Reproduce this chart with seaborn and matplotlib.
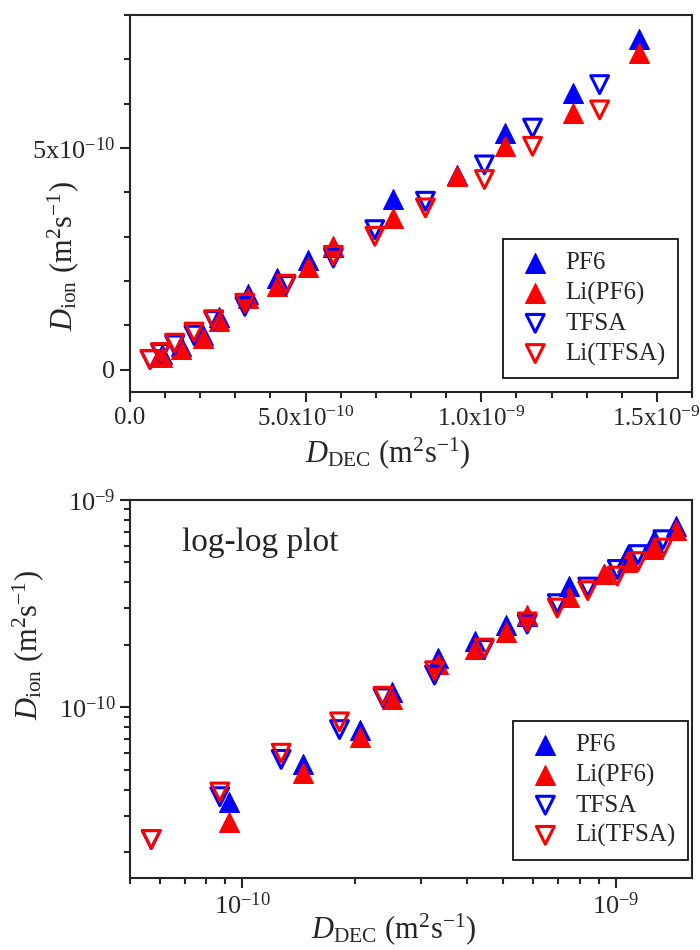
import numpy as np
import pandas as pd
import matplotlib
matplotlib.use("Agg")
import matplotlib.pyplot as plt
import seaborn as sns
from matplotlib.ticker import (MultipleLocator, FixedLocator, FixedFormatter,
                               LogLocator, NullFormatter)

# ---- data (units of 1e-10 m^2/s) ----
x_pf6 = [0.92, 1.45, 2.07, 2.52, 3.35, 4.19, 5.07, 5.79, 7.48, 9.32, 10.69, 12.60, 14.48]
y_pf6 = [0.35, 0.53, 0.78, 1.18, 1.72, 2.08, 2.48, 2.76, 3.84, 4.40, 5.34, 6.24, 7.46]
y_lipf6 = [0.28, 0.48, 0.72, 1.10, 1.62, 1.90, 2.31, 2.80, 3.42, 4.38, 5.04, 5.79, 7.14]

x_tfsa = [0.57, 0.87, 1.27, 1.82, 2.38, 3.27, 4.44, 5.79, 6.97, 8.41, 10.09, 11.46, 13.37]
y_tfsa = [0.23, 0.37, 0.56, 0.78, 1.11, 1.43, 1.90, 2.52, 3.16, 3.80, 4.62, 5.45, 6.43]
y_litfsa = [0.23, 0.39, 0.60, 0.85, 1.13, 1.50, 1.93, 2.58, 3.01, 3.65, 4.29, 5.04, 5.86]

labels = ["PF6", "Li(PF6)", "TFSA", "Li(TFSA)"]
unit = 1e-10

series = [
    (labels[0], x_pf6, y_pf6, "^", "blue", True),
    (labels[1], x_pf6, y_lipf6, "^", "red", True),
    (labels[2], x_tfsa, y_tfsa, "v", "blue", False),
    (labels[3], x_tfsa, y_litfsa, "v", "red", False),
]

sns.set_style("ticks")
plt.rcParams["font.family"] = ["Liberation Serif", "DejaVu Serif"]
plt.rcParams["mathtext.fontset"] = "custom"
plt.rcParams["mathtext.rm"] = "Liberation Serif"
plt.rcParams["mathtext.it"] = "Liberation Serif:italic"
plt.rcParams["mathtext.bf"] = "Liberation Serif:bold"
plt.rcParams["axes.linewidth"] = 1.5

fig = plt.figure(figsize=(7, 9.5), dpi=100)
ax1 = fig.add_axes([0.1857, 0.5874, 0.8029, 0.3968])
ax2 = fig.add_axes([0.1857, 0.0758, 0.8029, 0.3979])


def draw(ax):
    for name, xs, ys, mk, col, filled in series:
        df = pd.DataFrame({"x": np.array(xs) * unit, "y": np.array(ys) * unit})
        if filled:
            sns.scatterplot(data=df, x="x", y="y", ax=ax, marker=mk, s=205,
                            facecolor=col, edgecolor=col, linewidth=0.8,
                            label=name, zorder=3)
        else:
            sns.scatterplot(data=df, x="x", y="y", ax=ax, marker=mk, s=165,
                            facecolor="none", edgecolor=col, linewidth=2.2,
                            label=name, zorder=3)


draw(ax1)
draw(ax2)

ylab = r"$\mathit{D}_{\rm ion}$ (m$^{2}$s$^{-1}$)"
xlab = r"$\mathit{D}_{\rm DEC}$ (m$^{2}$s$^{-1}$)"

for ax in (ax1, ax2):
    for s in ("top", "right"):
        ax.spines[s].set_visible(True)
    ax.tick_params(which="both", direction="out", top=False, right=False,
                   labelsize=19, width=1.5)
    ax.tick_params(which="major", length=7)
    ax.tick_params(which="minor", length=4)
    ax.set_xlabel(xlab, fontsize=22)
    ax.set_ylabel(ylab, fontsize=22)
ax1.tick_params(axis="x", labelsize=18)

ax1.xaxis.set_label_coords(0.459, -0.115)
ax1.yaxis.set_label_coords(-0.088, 0.36)
ax2.xaxis.set_label_coords(0.47, -0.088)
ax2.yaxis.set_label_coords(-0.15, 0.616)

# top linear plot
ax1.set_xlim(0, 1.6e-9)
ax1.set_ylim(-0.5e-10, 8.0e-10)
ax1.xaxis.set_major_locator(FixedLocator([0, 5e-10, 1e-9, 1.5e-9]))
ax1.xaxis.set_major_formatter(FixedFormatter(
    ["0.0", r"5.0x10$^{-10}$", r"1.0x10$^{-9}$", r"1.5x10$^{-9}$"]))
ax1.xaxis.set_minor_locator(MultipleLocator(1e-10))
ax1.yaxis.set_major_locator(FixedLocator([0, 5e-10]))
ax1.yaxis.set_major_formatter(FixedFormatter(["0", r"5x10$^{-10}$"]))
ax1.yaxis.set_minor_locator(MultipleLocator(1e-10))

leg1 = ax1.legend(loc="lower right", bbox_to_anchor=(0.975, 0.037),
                  borderaxespad=0, fontsize=18, frameon=True, fancybox=False,
                  edgecolor="black", framealpha=1, handletextpad=0.4,
                  labelspacing=0.3, borderpad=0.5, handlelength=1.6)
leg1.get_frame().set_linewidth(1.2)

# bottom log-log plot
ax2.set_xscale("log")
ax2.set_yscale("log")
ax2.set_xlim(5.0e-11, 1.6e-9)
ax2.set_ylim(1.5e-11, 1.0e-9)
for axis in (ax2.xaxis, ax2.yaxis):
    axis.set_major_locator(FixedLocator([1e-10, 1e-9]))
    axis.set_major_formatter(FixedFormatter([r"10$^{-10}$", r"10$^{-9}$"]))
    axis.set_minor_locator(LogLocator(base=10, subs=np.arange(2, 10)))
    axis.set_minor_formatter(NullFormatter())

ax2.text(0.092, 0.886, "log-log plot", transform=ax2.transAxes,
         fontsize=24, va="center", ha="left")

leg2 = ax2.legend(loc="lower right", bbox_to_anchor=(0.993, 0.048),
                  borderaxespad=0, fontsize=18, frameon=True, fancybox=False,
                  edgecolor="black", framealpha=1, handletextpad=0.4,
                  labelspacing=0.3, borderpad=0.5, handlelength=1.6)
leg2.get_frame().set_linewidth(1.2)

fig.savefig("out.png", dpi=100)
